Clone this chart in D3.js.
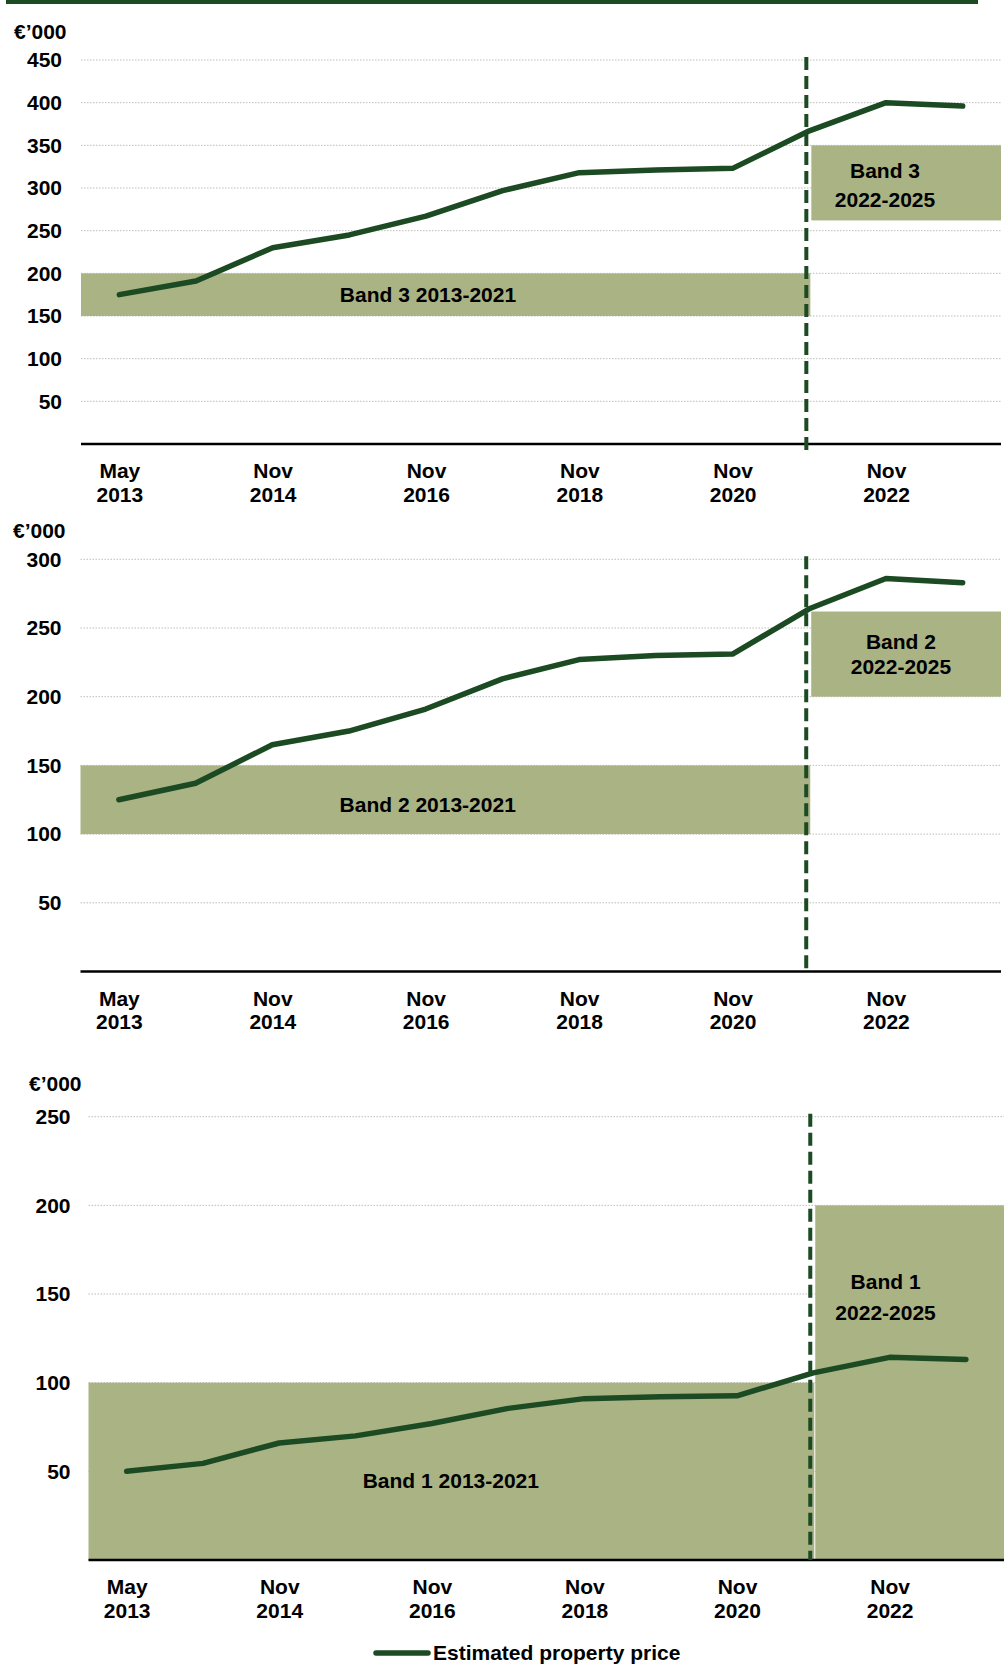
<!DOCTYPE html>
<html><head><meta charset="utf-8">
<script src="https://cdn.jsdelivr.net/npm/d3@7"></script>
<style>
html,body{margin:0;padding:0;background:#fff;}
svg text{font-family:"Liberation Sans",Arial,Helvetica,sans-serif;font-weight:bold;fill:#000;}
</style></head><body>
<svg id="chart" width="1006" height="1664"></svg>
<script>
// ---------- data ----------
const categories = ["May 2013","Nov 2013","Nov 2014","Nov 2015","Nov 2016","Nov 2017",
                    "Nov 2018","Nov 2019","Nov 2020","Nov 2021","Nov 2022","Nov 2023"];
const tickCategories = ["May 2013","Nov 2014","Nov 2016","Nov 2018","Nov 2020","Nov 2022"];

const band3Prices = [175, 191, 230, 245, 267, 297, 318, 321, 323, 367, 400, 396];
const band2Prices = [125, 137, 165, 175, 191, 213, 227, 230, 231, 264, 286, 283];
const band1Prices = [50, 54.5, 66, 70, 77, 85.5, 91, 92, 92.6, 105.5, 114.3, 113.1];

const band3Old = [150, 200];
const band3New = [262, 350];
const band2Old = [100, 150];
const band2New = [200, 262];
const band1Old = [0, 100];
const band1New = [0, 200];

const band3Ticks = [50, 100, 150, 200, 250, 300, 350, 400, 450];
const band2Ticks = [50, 100, 150, 200, 250, 300];
const band1Ticks = [50, 100, 150, 200, 250];

const band3OldLabel = "Band 3 2013-2021";
const band3NewLabel = ["Band 3", "2022-2025"];
const band2OldLabel = "Band 2 2013-2021";
const band2NewLabel = ["Band 2", "2022-2025"];
const band1OldLabel = "Band 1 2013-2021";
const band1NewLabel = ["Band 1", "2022-2025"];

const unitLabel = "€’000";
const legendLabel = "Estimated property price";
const splitCategory = "Nov 2021";

// ---------- drawing ----------
const GREEN = "#1b4a23";
const BAND = "#aab384";
const FONT = 21;
const svg = d3.select("#chart");

svg.append("rect").attr("x", 6).attr("y", 0).attr("width", 972).attr("height", 4).attr("fill", GREEN);

function drawPanel(p) {
  const x = d3.scalePoint().domain(categories).range([p.left, p.right]).padding(0.5);
  const y = d3.scaleLinear().domain([0, p.yMax]).range([p.bottom, p.top]);
  const g = svg.append("g");
  const xSplit = x(splitCategory);

  // gridlines
  g.append("g").selectAll("line").data(p.ticks).join("line")
    .attr("x1", p.left).attr("x2", p.right)
    .attr("y1", d => y(d)).attr("y2", d => y(d))
    .attr("stroke", "#bdbdbd").attr("stroke-width", 1).attr("stroke-dasharray", "1.5,1.5");

  // bands
  g.append("rect").attr("x", p.left).attr("width", xSplit + 1 - p.left)
    .attr("y", y(p.oldBand[1])).attr("height", y(p.oldBand[0]) - y(p.oldBand[1]))
    .attr("fill", BAND);
  g.append("rect").attr("x", xSplit + 2).attr("width", p.right - xSplit - 2)
    .attr("y", y(p.newBand[1])).attr("height", y(p.newBand[0]) - y(p.newBand[1]))
    .attr("fill", BAND);

  // band labels
  g.append("text").attr("x", x(categories[4]) + p.oldLabelDx).attr("y", y(p.oldLabelY))
    .attr("text-anchor", "middle").attr("dominant-baseline", "central")
    .style("font-size", FONT + "px").text(p.oldLabel);
  p.newLabel.forEach((t, i) => {
    g.append("text").attr("x", x(categories[10]) + p.newLabelDx).attr("y", y(p.newLabelY[i]))
      .attr("text-anchor", "middle").attr("dominant-baseline", "central")
      .style("font-size", FONT + "px").text(t);
  });

  // y axis labels
  const ya = g.append("g").attr("transform", `translate(${p.left},0)`)
    .call(d3.axisLeft(y).tickValues(p.ticks).tickSize(0).tickPadding(p.tickPad).tickFormat(d3.format("d")));
  ya.select(".domain").remove();
  ya.selectAll("text").style("font-size", FONT + "px").style("font-family", null).attr("fill", "#000");

  // unit label
  g.append("text").attr("x", p.unitX).attr("y", p.unitY).attr("dominant-baseline", "central")
    .style("font-size", FONT + "px").text(unitLabel);

  // x axis labels
  const xa = g.append("g").attr("transform", `translate(0,${p.bottom})`)
    .call(d3.axisBottom(x).tickValues(tickCategories).tickSize(0).tickFormat(""));
  xa.select(".domain").remove();
  xa.selectAll(".tick").each(function (d) {
    const parts = d.split(" ");
    const t = d3.select(this).append("text").attr("text-anchor", "middle")
      .attr("fill", "#000").style("font-size", FONT + "px");
    t.append("tspan").attr("x", 0).attr("y", 34).text(parts[0]);
    t.append("tspan").attr("x", 0).attr("y", 57.5).text(parts[1]);
  });

  // axis line
  g.append("line").attr("x1", p.left).attr("x2", p.right)
    .attr("y1", y(0)).attr("y2", y(0)).attr("stroke", "#000").attr("stroke-width", 2.5);

  // dashed divider
  g.append("line").attr("x1", xSplit - 3).attr("x2", xSplit - 3)
    .attr("y1", y(p.yMax) - 3).attr("y2", y(0) + p.dashExtend)
    .attr("stroke", GREEN).attr("stroke-width", 4).attr("stroke-dasharray", "13,6");

  // price line
  g.append("path").datum(p.values)
    .attr("d", d3.line().x((d, i) => x(categories[i])).y(d => y(d)))
    .attr("fill", "none").attr("stroke", GREEN).attr("stroke-width", 5.5)
    .attr("stroke-linecap", "round").attr("stroke-linejoin", "round");
}

drawPanel({
  left: 81, right: 1001, top: 60, bottom: 444, yMax: 450, ticks: band3Ticks,
  values: band3Prices, oldBand: band3Old, newBand: band3New,
  oldLabel: band3OldLabel, oldLabelY: 175.5, oldLabelDx: 2,
  newLabel: band3NewLabel, newLabelY: [321, 286], newLabelDx: -1,
  unitX: 14, unitY: 31, tickPad: 19, dashExtend: 6
});
drawPanel({
  left: 80.5, right: 1001, top: 559.3, bottom: 971.5, yMax: 300, ticks: band2Ticks,
  values: band2Prices, oldBand: band2Old, newBand: band2New,
  oldLabel: band2OldLabel, oldLabelY: 121.5, oldLabelDx: 2,
  newLabel: band2NewLabel, newLabelY: [240.5, 222.3], newLabelDx: 15,
  unitX: 13, unitY: 530, tickPad: 19, dashExtend: 0
});
drawPanel({
  left: 88.5, right: 1004, top: 1116.7, bottom: 1560, yMax: 250, ticks: band1Ticks,
  values: band1Prices, oldBand: band1Old, newBand: band1New,
  oldLabel: band1OldLabel, oldLabelY: 45, oldLabelDx: 19,
  newLabel: band1NewLabel, newLabelY: [157, 139.5], newLabelDx: -4,
  unitX: 29, unitY: 1083, tickPad: 18, dashExtend: 0
});

// legend
const lg = svg.append("g");
lg.append("line").attr("x1", 376).attr("x2", 428).attr("y1", 1653).attr("y2", 1653)
  .attr("stroke", GREEN).attr("stroke-width", 5.5).attr("stroke-linecap", "round");
lg.append("text").attr("x", 433).attr("y", 1652).attr("dominant-baseline", "central")
  .style("font-size", FONT + "px").text(legendLabel);
</script>
</body></html>
